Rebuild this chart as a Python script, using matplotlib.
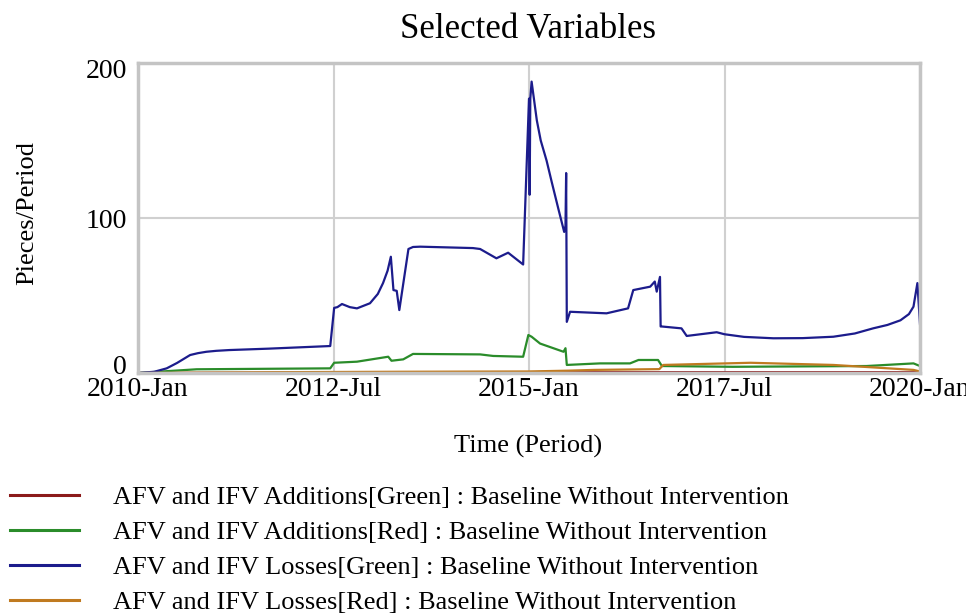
import matplotlib
matplotlib.use('Agg')
import matplotlib.pyplot as plt
from matplotlib.transforms import offset_copy

# time axis in months from 2010-Jan
tick_pos = [0, 30, 60, 90, 120]
tick_labels = ['2010-Jan', '2012-Jul', '2015-Jan', '2017-Jul', '2020-Jan']
y_ticks = [0, 100, 200]

# AFV and IFV Losses[Green]
loss_green_t = [0, 2.5, 4.4, 6, 8, 9.2, 10.5, 12, 14, 20, 29.5, 30.1, 30.6, 31.3, 32.5, 33.6,
                35.6, 36.8, 37.6, 38.3, 38.8, 39.2, 39.7, 40.1, 41.5, 42.2, 43.3, 51.4, 52.5,
                55, 56.8, 59.1, 60.0, 60.1, 60.2, 60.4, 61.2, 61.8, 62.7, 63.5, 64.5, 65.4,
                65.6, 65.7, 65.8, 66.3, 71.9, 75.2, 76, 78.6, 79.3, 79.6, 80.1, 80.2, 80.4,
                83.4, 84.2, 88.8, 90, 93, 97.5, 102, 106.7, 110, 112.8, 115, 117, 118.3, 119,
                119.6, 120]
loss_green_v = [0, 0.8, 3, 6.5, 11.6, 12.8, 13.7, 14.3, 14.8, 15.7, 17.4, 42, 42.5, 44.5, 42.5, 41.7,
                45, 51, 58, 66, 75, 53.5, 53, 40.6, 80, 81.3, 81.5, 80.6, 80,
                74, 77.6, 70, 177, 115, 177, 188, 163, 150, 137, 123, 106, 91,
                95, 129, 33, 39.5, 38.5, 41.7, 53.5, 55.7, 59, 52.5, 62, 30, 30,
                28.8, 23.9, 26.3, 25, 23.3, 22.4, 22.5, 23.4, 25.5, 28.8, 31, 34, 38, 42.8,
                58, 31.6]

# AFV and IFV Additions[Red]
add_red_t = [0, 9, 29.5, 30.1, 33.6, 38.4, 38.9, 40.7, 42.2, 52.5, 54.5, 59.1, 59.9, 60.4,
             61.7, 65.3, 65.6, 65.8, 70.9, 75.5, 76.8, 79.8, 80.4, 91.3, 111.8, 119, 120]
add_red_v = [0, 2.4, 3, 6.6, 7.3, 10.5, 7.9, 8.8, 12.3, 12, 11, 10.5, 24.5, 23.4,
             19, 13.7, 16, 5.2, 6.2, 6.2, 8.4, 8.4, 4.5, 4, 4.5, 6.2, 4.5]

# AFV and IFV Losses[Red]
loss_red_t = [0, 20, 40, 60, 66, 70, 80, 80.6, 94, 106.7, 119, 120]
loss_red_v = [0, 0.5, 0.8, 1.0, 1.5, 2.0, 2.5, 5.2, 6.6, 5.2, 2.0, 1.0]

# AFV and IFV Additions[Green]
add_green_t = [0, 30, 60, 90, 120]
add_green_v = [0, 0.3, 0.5, 0.5, 0.5]

labels = ['AFV and IFV Additions[Green] : Baseline Without Intervention',
          'AFV and IFV Additions[Red] : Baseline Without Intervention',
          'AFV and IFV Losses[Green] : Baseline Without Intervention',
          'AFV and IFV Losses[Red] : Baseline Without Intervention']
colors = ['#8b1a1a', '#2a8c2a', '#1c1c8c', '#c07a20']

plt.rcParams['font.family'] = ['Liberation Serif', 'DejaVu Serif']

W, H = 966, 614
fig = plt.figure(figsize=(W / 100, H / 100), dpi=100)
ax = fig.add_axes([138 / W, 1 - 373 / H, 782 / W, 310 / H])

h1, = ax.plot(add_green_t, add_green_v, color=colors[0], lw=1.6)
h2, = ax.plot(add_red_t, add_red_v, color=colors[1], lw=1.6)
h3, = ax.plot(loss_green_t, loss_green_v, color=colors[2], lw=1.6)
h4, = ax.plot(loss_red_t, loss_red_v, color=colors[3], lw=1.6)

ax.set_xlim(0, 120)
ax.set_ylim(0, 200)
ax.set_xticks(tick_pos)
ax.set_xticklabels(tick_labels)
ax.set_yticks(y_ticks)
ax.tick_params(length=0, labelsize=20)
ax.tick_params(axis='x', pad=3)
ax.tick_params(axis='y', pad=8)
ax.grid(True, color='#d0d0d0', lw=1.5)
for s in ax.spines.values():
    s.set_color('#c4c4c4')
    s.set_linewidth(2.5)

# nudge the end labels inside the axis range like the original
ylabs = ax.get_yticklabels()
ylabs[0].set_transform(offset_copy(ylabs[0].get_transform(), fig=fig, y=8, units='dots'))
ylabs[-1].set_transform(offset_copy(ylabs[-1].get_transform(), fig=fig, y=-5, units='dots'))

fig.text(528 / W, 1 - 29 / H, 'Selected Variables', fontsize=25, ha='center', va='center')
fig.text(528 / W, 1 - 446 / H, 'Time (Period)', fontsize=19, ha='center', va='center')
fig.text(27 / W, 1 - 213 / H, 'Pieces/Period', rotation=90, fontsize=19,
         ha='center', va='center')

fig.legend([h1, h2, h3, h4], labels, loc='upper left',
           bbox_to_anchor=(10 / W, 1 - 486 / H), frameon=False, fontsize=19,
           borderpad=0, borderaxespad=0, handlelength=2.6, handletextpad=1.3,
           labelspacing=0.43)
for lh in fig.legends[0].get_lines():
    lh.set_linewidth(2.2)

fig.savefig('out.png', dpi=100)
